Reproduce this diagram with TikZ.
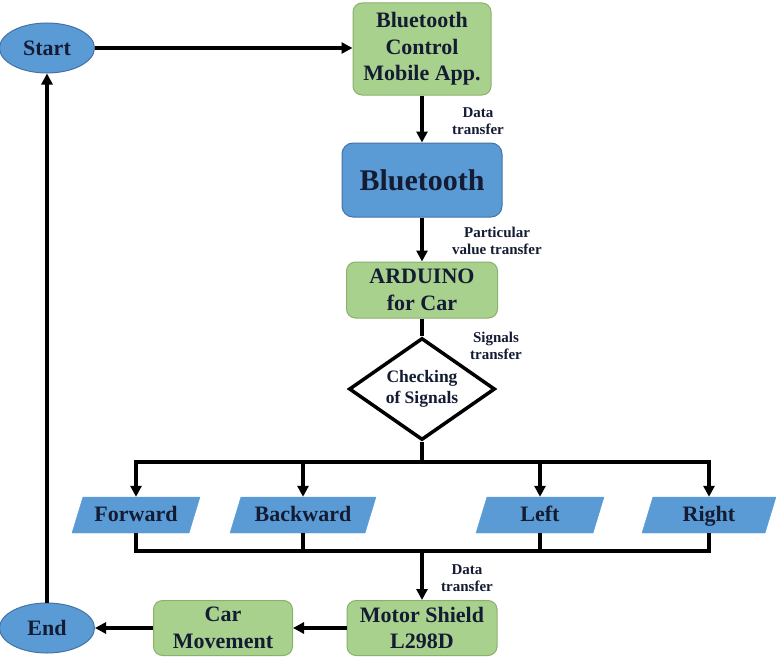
\documentclass[tikz,border=0pt]{standalone}
\usepackage{fontspec}
\setmainfont{Liberation Serif}
\newfontfamily\flowfont{Liberation Serif}
\usetikzlibrary{shapes.geometric,arrows.meta}

\definecolor{boxgreen}{HTML}{A9D18E}
\definecolor{boxgreenline}{HTML}{8AB06A}
\definecolor{boxblue}{HTML}{5B9BD5}
\definecolor{boxblueline}{HTML}{4472A8}
\definecolor{txtdark}{HTML}{141C33}

\tikzset{
  gbox/.style = {rectangle, rounded corners = 9pt,
                 draw = boxgreenline, line width = 1pt, fill = boxgreen,
                 align = center, text = txtdark, inner sep = 0pt,
                 font = \flowfont\bfseries\fontsize{22}{26.5}\selectfont},
  bbox/.style = {rectangle, rounded corners = 11pt,
                 draw = boxblueline, line width = 1pt, fill = boxblue,
                 align = center, text = txtdark, inner sep = 0pt,
                 font = \flowfont\bfseries\fontsize{30}{34}\selectfont},
  term/.style = {ellipse, draw = boxblueline, line width = 1pt, fill = boxblue,
                 minimum width = 95pt, minimum height = 50pt, inner sep = 0pt,
                 text = txtdark, font = \flowfont\bfseries\fontsize{22}{26}\selectfont},
  iobox/.style = {trapezium, trapezium left angle = 52, trapezium right angle = 128,
                 trapezium stretches body, fill = boxblue, draw = boxblue,
                 minimum height = 36pt, inner sep = 0pt, text = txtdark,
                 text height = 13pt, text depth = 1pt,
                 font = \flowfont\bfseries\fontsize{22}{26}\selectfont},
  lbl/.style  = {align = center, text = txtdark,
                 font = \flowfont\bfseries\fontsize{15}{17}\selectfont},
  flow/.style = {->, line width = 3.5pt},
  bus/.style  = {line width = 3.5pt}
}

\begin{document}
\begin{tikzpicture}[x=1pt, y=-1pt, >={Triangle[length=11pt,width=11pt]}]

  \useasboundingbox (0,0) rectangle (776,669);

  % top row
  \node[term] (start) at (47,48) {Start};
  \node[gbox, minimum width = 138pt, minimum height = 92pt]
        (app) at (422,49) {Bluetooth\\Control\\Mobile App.};

  % main column
  \node[bbox, minimum width = 160pt, minimum height = 74pt]
        (bt) at (422,180) {Bluetooth};
  \node[gbox, minimum width = 151pt, minimum height = 56pt]
        (ard) at (422,290) {ARDUINO\\for Car};
  \node[diamond, aspect = 1.43, draw, line width = 3.5pt, fill = white,
        minimum width = 146pt, minimum height = 102pt, inner sep = 0pt,
        align = center, text = txtdark,
        font = \flowfont\bfseries\fontsize{17.5}{21}\selectfont]
        (chk) at (422,389) {Checking\\of Signals};

  % directions
  \node[iobox, minimum width = 128pt] (fwd) at (136,515) {Forward};
  \node[iobox, minimum width = 146pt] (bwd) at (303,515) {Backward};
  \node[iobox, minimum width = 128pt] (lft) at (540,515) {Left};
  \node[iobox, minimum width = 134pt] (rgt) at (709,515) {Right};

  % bottom row
  \node[gbox, minimum width = 150pt, minimum height = 55pt]
        (motor) at (422,628) {Motor Shield\\L298D};
  \node[gbox, minimum width = 139pt, minimum height = 55pt]
        (car) at (223,628) {Car\\Movement};
  \node[term] (stop) at (47,628) {End};

  % labels
  \node[lbl] (lbl1) at (478,121) {Data\\transfer};
  \node[lbl] (lbl2) at (497,241) {Particular\\value transfer};
  \node[lbl] (lbl3) at (496,346) {Signals\\transfer};
  \node[lbl] (lbl4) at (467,578) {Data\\transfer};

  \coordinate (forkT) at (422,462);
  \coordinate (forkB) at (422,551);

  \draw[flow] (start) -- (start -| app.west);
  \draw[flow] (app) -- (bt);
  \draw[flow] (bt) -- (ard);
  \draw[bus]  (ard) -- (chk.north);
  \draw[bus]  (chk.south) -- (forkT);
  \draw[flow] (forkT) -| (fwd.north);
  \draw[flow] (forkT) -| (bwd.north);
  \draw[flow] (forkT) -| (lft.north);
  \draw[flow] (forkT) -| (rgt.north);
  \draw[bus]  (fwd.south) |- (forkB);
  \draw[bus]  (bwd.south) |- (forkB);
  \draw[bus]  (lft.south) |- (forkB);
  \draw[bus]  (rgt.south) |- (forkB);
  \draw[flow] (forkB) -- (motor);
  \draw[flow] (motor) -- (car);
  \draw[flow] (car) -- (stop);
  \draw[flow] (stop) -- (start);

\end{tikzpicture}
\end{document}
